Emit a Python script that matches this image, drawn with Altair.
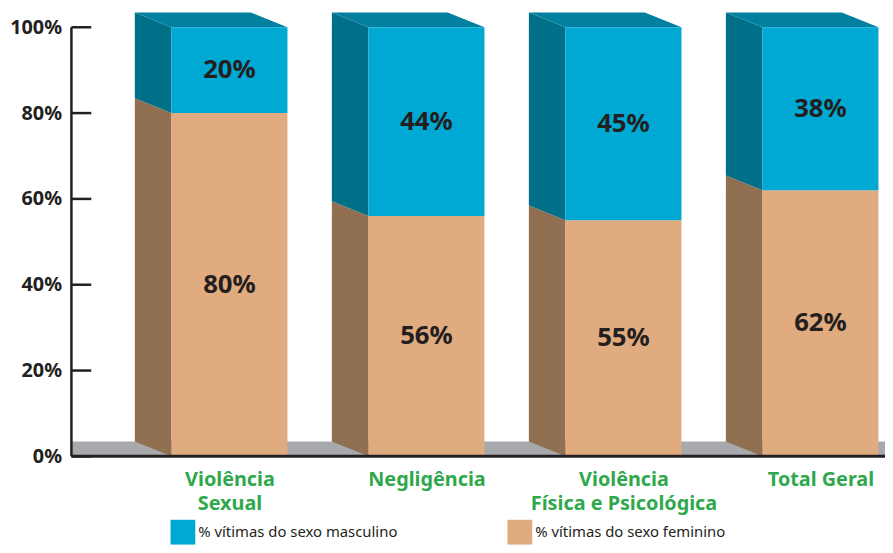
import json
import altair as alt
import pandas as pd

# ---- data ----
categorias = ["Violência Sexual", "Negligência", "Violência Física e Psicológica", "Total Geral"]
rotulos = [["Violência", "Sexual"], ["Negligência"], ["Violência", "Física e Psicológica"], ["Total Geral"]]
masculino = [20, 44, 45, 38]
feminino = [80, 56, 55, 62]
series = ["% vítimas do sexo masculino", "% vítimas do sexo feminino"]
ticks = [0, 20, 40, 60, 80, 100]

# ---- layout / style constants ----
PLOT_W, PLOT_H = 821, 450
PX_Y = 4.33            # px per percentage point
UNIT_X = 198.8         # px between bar centres
X_MIN = -159.5 / UNIT_X
X_MAX = X_MIN + PLOT_W / UNIT_X
Y_MAX = PLOT_H / PX_Y
HW = 58.5 / UNIT_X     # half width of the front face
DX = 37 / UNIT_X       # depth (horizontal)
DY = 15 / PX_Y         # depth (vertical)

FRONT = ["#00A9D3", "#E0AB7F"]
SIDE = ["#006F88", "#917052"]
TOP = "#0380A0"
FLOOR = "#A7A9AC"
GREEN = "#2EA84B"
INK = "#231F20"
FONT = "Noto Sans"

# ---- tables built from the arrays ----
front_rows, side_rows, top_rows = [], [], []
for i, (cat, m, f) in enumerate(zip(categorias, masculino, feminino)):
    segs = [(series[1], 0, f, f), (series[0], f, f + m, m)]
    for s, lo, hi, v in segs:
        front_rows.append(dict(cat=cat, i=i, sexo=s, lo=lo, hi=hi, mid=(lo + hi) / 2, label=f"{v}%"))
        key = f"{i}-{s}"
        side_rows.append(dict(key=key, sexo=s, x=i - HW - DX, y=lo + DY, y2=hi + DY))
        side_rows.append(dict(key=key, sexo=s, x=i - HW, y=lo, y2=hi))
    tot = f + m
    for x, y, y2 in [(i - HW - DX, tot + DY, tot + DY), (i - HW, tot + DY, tot),
                     (i + HW - DX, tot + DY, tot), (i + HW, tot, tot)]:
        top_rows.append(dict(key=str(i), x=x, y=y, y2=y2))

front = pd.DataFrame(front_rows)
front["x0"] = front["i"] - HW
front["x1"] = front["i"] + HW
side = pd.DataFrame(side_rows)
top = pd.DataFrame(top_rows)
floor = pd.DataFrame([dict(x0=X_MIN, x1=X_MAX, y0=0, y1=DY)])
tick_df = pd.DataFrame({"t": ticks})
axis_df = pd.DataFrame({"y0": [ticks[0]], "y1": [ticks[-1]]})

xscale = alt.Scale(domain=[X_MIN, X_MAX], nice=False, zero=False)
yscale = alt.Scale(domain=[0, Y_MAX], nice=False, zero=False)

label_expr = json.dumps(rotulos, ensure_ascii=False) + "[datum.value]"
xaxis = alt.Axis(values=[0, 1, 2, 3], labelExpr=label_expr, title=None, domain=False, ticks=False,
                 grid=False, labelFont=FONT, labelFontSize=20, labelFontWeight="bold", labelColor=GREEN,
                 labelPadding=13, labelLineHeight=25, labelFlush=False, labelOverlap=False,
                 labelLimit=400)
yaxis = alt.Axis(values=ticks, labelExpr="datum.value + '%'", title=None, domain=False, ticks=False,
                 tickSize=0, grid=False, labelFont=FONT, labelFontSize=20, labelFontWeight="bold",
                 labelColor=INK, labelPadding=10)


def X(field):
    return alt.X(field, type="quantitative", scale=xscale, axis=xaxis)


def Y(field):
    return alt.Y(field, type="quantitative", scale=yscale, axis=yaxis, stack=None)


floor_layer = alt.Chart(floor).mark_rect(color=FLOOR).encode(
    x=X("x0"), x2="x1", y=Y("y0"), y2="y1")

side_layer = alt.Chart(side).mark_area(orient="vertical", opacity=1).encode(
    x=X("x"), y=Y("y"), y2="y2",
    color=alt.Color("sexo:N", scale=alt.Scale(domain=series, range=SIDE), legend=None),
    detail="key:N")

top_layer = alt.Chart(top).mark_area(orient="vertical", color=TOP, opacity=1).encode(
    x=X("x"), y=Y("y"), y2="y2", detail="key:N")

front_layer = alt.Chart(front).mark_rect().encode(
    x=X("x0"), x2="x1", y=Y("lo"), y2="hi",
    color=alt.Color("sexo:N", scale=alt.Scale(domain=series, range=FRONT),
                    legend=alt.Legend(title=None, orient="none", legendX=100, legendY=514,
                                      direction="horizontal", symbolType="square", symbolSize=625,
                                      symbolStrokeWidth=0, symbolOpacity=1, labelFont=FONT,
                                      labelFontSize=15, labelColor=INK, labelLimit=400,
                                      columnPadding=110, labelOffset=3, padding=0)))

text_layer = alt.Chart(front).mark_text(font=FONT, fontSize=26, fontWeight="bold", color=INK,
                                        baseline="middle", align="center").encode(
    x=X("i"), y=Y("mid"), text="label:N")

tick_layer = alt.Chart(tick_df).mark_rule(color=INK, strokeWidth=2.5).encode(
    y=Y("t"), x=alt.value(0), x2=alt.value(20))

vaxis_layer = alt.Chart(axis_df).mark_rule(color=INK, strokeWidth=2.5).encode(
    y=Y("y0"), y2="y1", x=alt.value(0))

base_layer = alt.Chart(axis_df).mark_rule(color=INK, strokeWidth=3).encode(
    y=Y("y0"), x=alt.value(0), x2=alt.value(PLOT_W))

chart = alt.layer(
    floor_layer, side_layer, top_layer, front_layer, text_layer, tick_layer, vaxis_layer, base_layer
).resolve_scale(color="independent").properties(
    width=PLOT_W, height=PLOT_H,
    autosize=alt.AutoSizeParams(type="none"),
    padding={"left": 64, "top": 0, "right": 0, "bottom": 87},
).configure_view(stroke=None)

chart.save("out.html", embed_options={"renderer": "svg", "actions": False})
